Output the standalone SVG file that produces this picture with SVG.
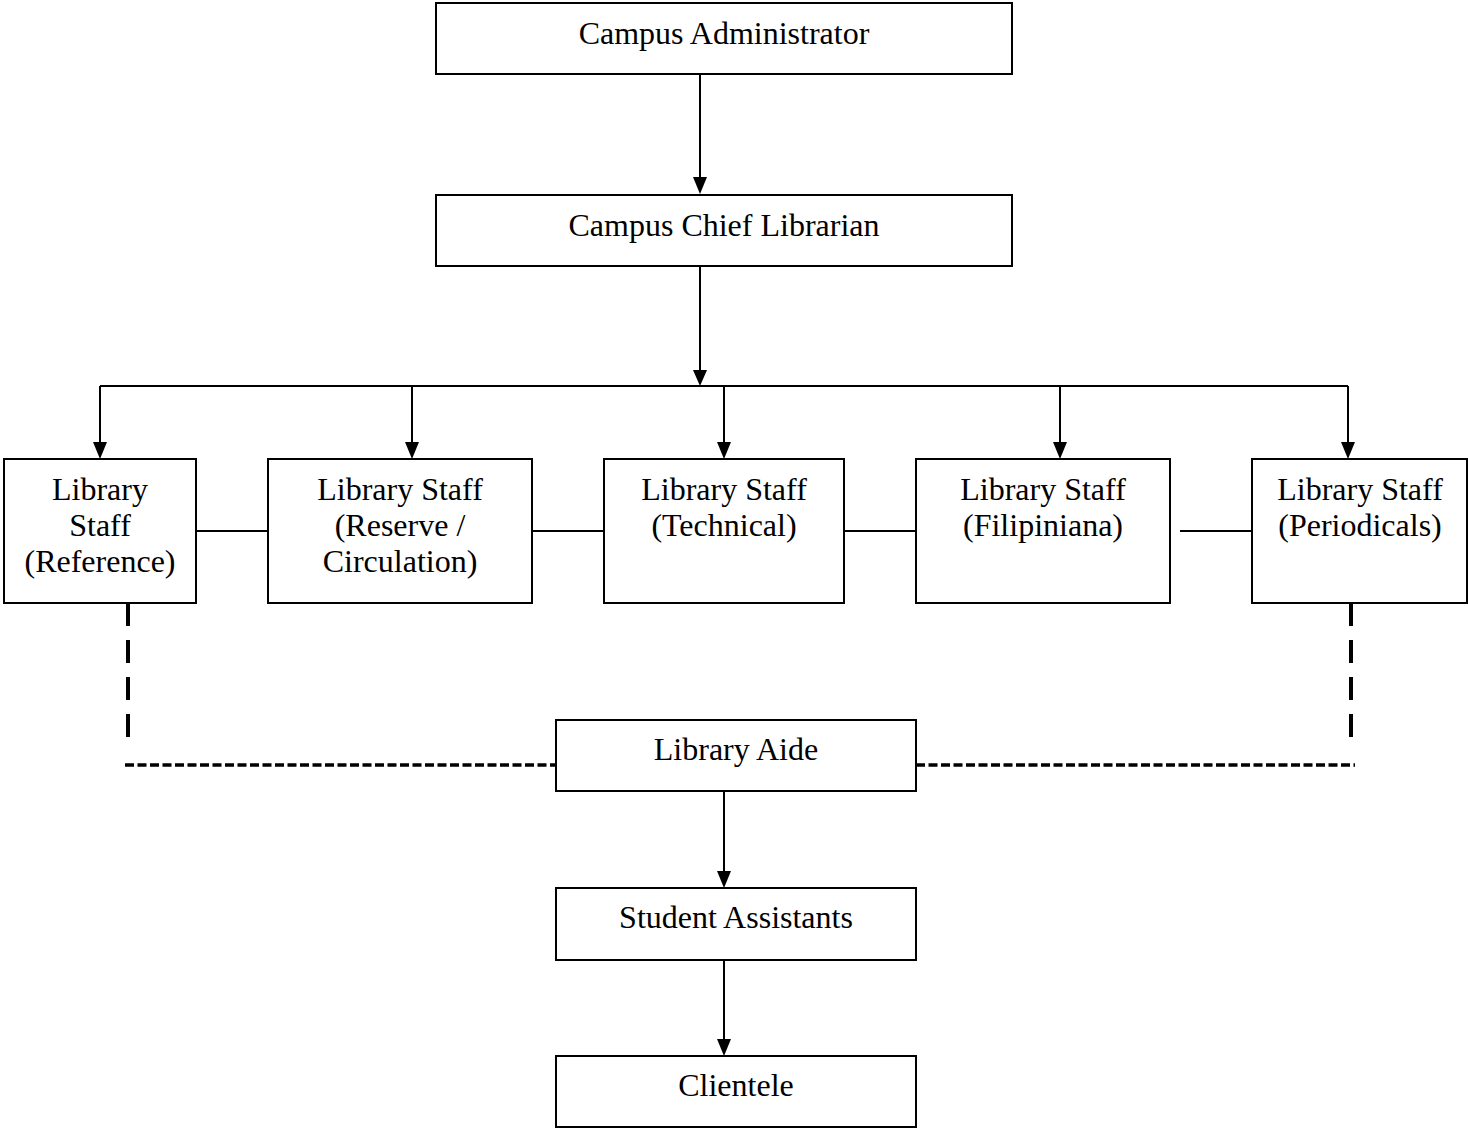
<svg xmlns="http://www.w3.org/2000/svg" width="1468" height="1128" viewBox="0 0 1468 1128">
<style>
.box{fill:#fff;stroke:#000;stroke-width:2}
.t{font-family:"Liberation Serif","Times New Roman",serif;font-size:32px;fill:#000;text-anchor:middle}
.ln{stroke:#000;stroke-width:2;fill:none}
.hd{fill:#000}
.dv{stroke:#000;stroke-width:4;fill:none;stroke-dasharray:23 14}
.dh{stroke:#000;stroke-width:3.5;fill:none;stroke-dasharray:9 3.5}
</style>
<rect width="1468" height="1128" fill="#fff"/>
<g id="connectors">
<path class="ln" d="M700,74 V177"/>
<path class="hd" d="M693,177 L707,177 L700,194 Z"/>
<path class="ln" d="M700,266 V370"/>
<path class="hd" d="M693,370 L707,370 L700,386 Z"/>
<path class="ln" d="M100,386 H1348"/>
<path class="ln" d="M100,386 V442"/>
<path class="hd" d="M93,442 L107,442 L100,459 Z"/>
<path class="ln" d="M412,386 V442"/>
<path class="hd" d="M405,442 L419,442 L412,459 Z"/>
<path class="ln" d="M724,386 V442"/>
<path class="hd" d="M717,442 L731,442 L724,459 Z"/>
<path class="ln" d="M1060,386 V442"/>
<path class="hd" d="M1053,442 L1067,442 L1060,459 Z"/>
<path class="ln" d="M1348,386 V442"/>
<path class="hd" d="M1341,442 L1355,442 L1348,459 Z"/>
<path class="ln" d="M196,531 H268 M532,531 H604 M844,531 H916 M1180,531 H1252"/>
<path class="dv" d="M128,603 V737"/>
<path class="dv" d="M1351,603 V737"/>
<path class="dh" d="M125,765 H556"/>
<path class="dh" d="M916,765 H1355"/>
<path class="ln" d="M724,791 V871"/>
<path class="hd" d="M717,871 L731,871 L724,888 Z"/>
<path class="ln" d="M724,960 V1039"/>
<path class="hd" d="M717,1039 L731,1039 L724,1056 Z"/>
</g>
<g id="admin"><rect class="box" x="436" y="3" width="576" height="71"/><text class="t" x="724" y="44">Campus Administrator</text></g>
<g id="chief"><rect class="box" x="436" y="195" width="576" height="71"/><text class="t" x="724" y="236">Campus Chief Librarian</text></g>
<g id="reference"><rect class="box" x="4" y="459" width="192" height="144"/><text class="t" x="100" y="500">Library</text><text class="t" x="100" y="536">Staff</text><text class="t" x="100" y="572">(Reference)</text></g>
<g id="reserve"><rect class="box" x="268" y="459" width="264" height="144"/><text class="t" x="400" y="500">Library Staff</text><text class="t" x="400" y="536">(Reserve /</text><text class="t" x="400" y="572">Circulation)</text></g>
<g id="technical"><rect class="box" x="604" y="459" width="240" height="144"/><text class="t" x="724" y="500">Library Staff</text><text class="t" x="724" y="536">(Technical)</text></g>
<g id="filipiniana"><rect class="box" x="916" y="459" width="254" height="144"/><text class="t" x="1043" y="500">Library Staff</text><text class="t" x="1043" y="536">(Filipiniana)</text></g>
<g id="periodicals"><rect class="box" x="1252" y="459" width="215" height="144"/><text class="t" x="1360" y="500">Library Staff</text><text class="t" x="1360" y="536">(Periodicals)</text></g>
<g id="aide"><rect class="box" x="556" y="720" width="360" height="71"/><text class="t" x="736" y="760">Library Aide</text></g>
<g id="students"><rect class="box" x="556" y="888" width="360" height="72"/><text class="t" x="736" y="928">Student Assistants</text></g>
<g id="clientele"><rect class="box" x="556" y="1056" width="360" height="71"/><text class="t" x="736" y="1096">Clientele</text></g>
</svg>
